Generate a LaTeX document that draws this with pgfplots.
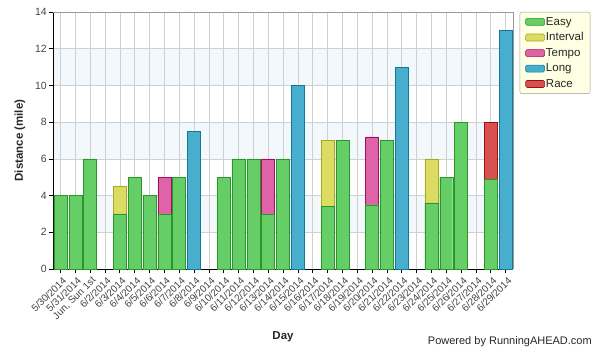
\documentclass[border=0pt]{standalone}
\usepackage{pgfplots}
\pgfplotsset{compat=1.18}
\usepackage{fontspec}
\setmainfont{Liberation Sans}
\definecolor{txt}{HTML}{444444}
\definecolor{gridc}{HTML}{D0D0D0}
\definecolor{band}{HTML}{F2F8FC}
\definecolor{gF}{HTML}{66CE66}\definecolor{gB}{HTML}{2A962A}
\definecolor{yF}{HTML}{DCDC62}\definecolor{yB}{HTML}{A8A820}
\definecolor{pF}{HTML}{E062A8}\definecolor{pB}{HTML}{9A1458}
\definecolor{bF}{HTML}{48AECE}\definecolor{bB}{HTML}{137898}
\definecolor{rF}{HTML}{D85050}\definecolor{rB}{HTML}{981010}
\definecolor{legbg}{HTML}{FFFFE3}
\tikzset{
  easy/.style={draw=gB, fill=gF},
  interval/.style={draw=yB, fill=yF},
  tempo/.style={draw=pB, fill=pF},
  long/.style={draw=bB, fill=bF},
  race/.style={draw=rB, fill=rF},
}
\pgfplotstableread{
x y
0 4
1 4
2 6
4 3
5 5
6 4
7 3
8 5
11 5
12 6
13 6
14 3
15 6
18 3.4
19 7
21 3.5
22 7
25 3.6
26 5
27 8
29 4.9
}\tEasy
\pgfplotstableread{
x y
4 4.5
18 7
25 6
}\tInterval
\pgfplotstableread{
x y
7 5
14 6
21 7.2
}\tTempo
\pgfplotstableread{
x y
9 7.5
16 10
23 11
30 13
}\tLong
\pgfplotstableread{
x y
29 8
}\tRace
\begin{document}
\begin{tikzpicture}
\begin{axis}[
  set layers,
  clip=false,
  scale only axis,
  width=460pt, height=257pt,
  xmin=-0.5, xmax=30.5,
  ymin=0, ymax=14,
  ytick={0,2,...,14},
  xtick={0,...,30},
  xticklabels={5/30/2014,5/31/2014,{Jun, Sun 1st},6/2/2014,6/3/2014,6/4/2014,6/5/2014,6/6/2014,6/7/2014,6/8/2014,6/9/2014,6/10/2014,6/11/2014,6/12/2014,6/13/2014,6/14/2014,6/15/2014,6/16/2014,6/17/2014,6/18/2014,6/19/2014,6/20/2014,6/21/2014,6/22/2014,6/23/2014,6/24/2014,6/25/2014,6/26/2014,6/27/2014,6/28/2014,6/29/2014},
  xticklabel style={rotate=45, anchor=east, font=\fontsize{10}{11}\selectfont, text=txt, inner sep=1pt, xshift=0pt, yshift=-7pt},
  yticklabel style={font=\fontsize{10.5}{11}\selectfont, text=txt, inner sep=2pt},
  /pgf/number format/assume math mode=true,
  tick align=outside,
  major tick length=4pt,
  tick style={black, line width=0.6pt},
  xtick pos=bottom, ytick pos=left,
  grid=major,
  major grid style={gridc, line width=0.5pt},
  axis line style={line width=0.6pt},
  axis x line*=bottom, axis y line*=left,
  xlabel={Day}, ylabel={Distance (mile)},
  xlabel style={font=\bfseries\fontsize{11.5}{13}\selectfont, text=black!85, at={(rel axis cs:0.5,-0.265)}, anchor=center},
  ylabel style={font=\bfseries\fontsize{11.5}{13}\selectfont, text=black!85, at={(rel axis cs:-0.0717,0.5)}, anchor=center},
  ybar, bar width=13pt, bar shift=0pt,
  legend style={at={(rel axis cs:1.0145,1)}, anchor=north west, fill=legbg, draw=gray!80, rounded corners=2pt,
    font=\fontsize{11.5}{12}\selectfont, text=black!85, row sep=4pt, inner xsep=5.5pt, inner ysep=4pt,
    nodes={inner sep=1pt}},
  legend cell align=left,
  legend image code/.code={\draw[#1, rounded corners=1.5pt, line width=0.6pt] (0pt,-3.5pt) rectangle (19pt,3.5pt);},
]
\begin{pgfonlayer}{axis background}
\fill[band] (axis cs:-0.5,2) rectangle (axis cs:30.5,4);
\fill[band] (axis cs:-0.5,6) rectangle (axis cs:30.5,8);
\fill[band] (axis cs:-0.5,10) rectangle (axis cs:30.5,12);
\end{pgfonlayer}
\draw[gray!80, line width=0.5pt] (rel axis cs:0,1) -- (rel axis cs:1,1) -- (rel axis cs:1,0);
\addplot[interval, forget plot] table {\tInterval};
\addplot[tempo, forget plot] table {\tTempo};
\addplot[long, forget plot] table {\tLong};
\addplot[race, forget plot] table {\tRace};
\addplot[easy, forget plot] table {\tEasy};
\addlegendimage{easy}\addlegendentry{Easy}
\addlegendimage{interval}\addlegendentry{Interval}
\addlegendimage{tempo}\addlegendentry{Tempo}
\addlegendimage{long}\addlegendentry{Long}
\addlegendimage{race}\addlegendentry{Race}
\node[anchor=east, font=\fontsize{11}{12}\selectfont, text=black!85, inner sep=0pt] at (rel axis cs:1.1717,-0.282) {Powered by RunningAHEAD.com};
\end{axis}
\pgfresetboundingbox
\useasboundingbox (-53pt,-84pt) rectangle (551pt,269pt);
\end{tikzpicture}
\end{document}
